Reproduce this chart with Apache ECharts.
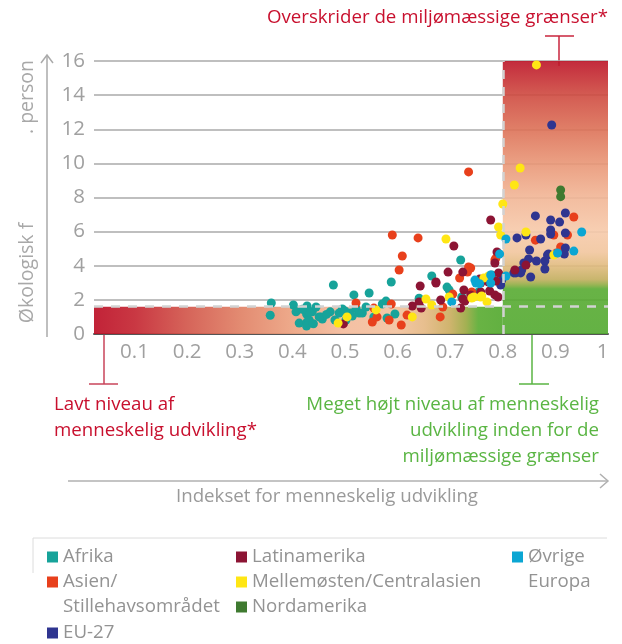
<!DOCTYPE html>
<html>
<head>
<meta charset="utf-8">
<script src="https://cdn.jsdelivr.net/npm/echarts@6/dist/echarts.min.js"></script>
<style>html,body{margin:0;padding:0;background:#fff}#c{width:622px;height:644px}</style>
</head>
<body>
<div id="c"></div>
<script>
// ---- data ----
const xTicks = [0.1, 0.2, 0.3, 0.4, 0.5, 0.6, 0.7, 0.8, 0.9, 1];
const yMin = 0, yMax = 16, yStep = 2;
const xMin = 0.023, xMax = 1;
const hdiThreshold = 0.8;
const biocapacity = 1.6;

const afrika = [[0.36,1.82],[0.358,1.1],[0.402,1.7],[0.407,1.3],[0.413,0.64],[0.428,0.7],[0.428,1.64],[0.427,1.17],[0.432,0.82],[0.438,1.3],[0.445,1.58],[0.455,1.0],[0.457,0.88],[0.472,1.3],[0.478,2.87],[0.481,0.82],[0.489,1.23],[0.495,1.47],[0.502,0.82],[0.51,1.23],[0.517,2.29],[0.521,1.52],[0.527,1.23],[0.546,2.4],[0.54,1.58],[0.555,1.0],[0.588,3.05],[0.578,1.93],[0.571,1.76],[0.595,1.17],[0.58,0.94],[0.533,1.23],[0.514,1.05],[0.451,1.0],[0.432,1.3],[0.427,0.47],[0.665,3.4],[0.694,2.75],[0.698,2.58],[0.72,4.34],[0.641,2.1],[0.722,2.17],[0.754,2.46],[0.779,3.46],[0.419,1.45],[0.44,0.6],[0.465,1.15],[0.5,1.35]];
const asien = [[0.59,5.8],[0.639,5.63],[0.609,4.57],[0.603,3.75],[0.739,3.87],[0.718,3.28],[0.552,0.7],[0.561,1.0],[0.584,0.82],[0.607,0.53],[0.618,1.11],[0.681,1.0],[0.521,1.82],[0.555,1.52],[0.588,1.76],[0.686,1.58],[0.705,2.34],[0.735,3.93],[0.733,3.63],[0.741,2.46],[0.785,4.34],[0.787,4.45],[0.735,9.5],[0.935,6.86],[0.862,5.5],[0.897,5.8],[0.923,5.8],[0.91,5.1],[0.902,4.75]];
const eu27 = [[0.893,12.25],[0.862,6.92],[0.919,7.09],[0.891,6.68],[0.908,6.56],[0.891,6.1],[0.891,5.86],[0.919,5.92],[0.827,5.63],[0.844,5.8],[0.872,5.57],[0.851,4.92],[0.919,5.04],[0.917,4.69],[0.887,4.69],[0.849,4.4],[0.84,4.16],[0.864,4.28],[0.88,4.28],[0.88,3.81],[0.836,3.75],[0.825,3.58],[0.834,3.58],[0.821,3.58],[0.853,3.34],[0.796,2.87],[0.798,3.16],[0.885,4.63]];
const latinamerika = [[0.777,6.68],[0.707,5.16],[0.789,4.81],[0.785,4.16],[0.696,3.63],[0.724,3.63],[0.673,3.05],[0.643,2.81],[0.628,1.64],[0.645,1.52],[0.641,1.88],[0.682,1.99],[0.726,2.58],[0.724,2.05],[0.728,1.93],[0.72,1.52],[0.758,2.99],[0.758,2.46],[0.775,2.52],[0.785,2.29],[0.787,3.1],[0.792,3.58],[0.497,0.59],[0.756,3.22],[0.773,3.05],[0.739,2.29],[0.791,2.17],[0.844,4.04],[0.823,3.75],[0.673,2.99]];
const mellemosten = [[0.864,15.77],[0.833,9.73],[0.822,8.73],[0.8,7.62],[0.792,6.27],[0.796,5.8],[0.773,3.4],[0.764,3.28],[0.741,2.11],[0.745,2.17],[0.758,2.17],[0.77,1.88],[0.692,5.57],[0.654,2.05],[0.665,1.7],[0.698,2.17],[0.76,2.23],[0.844,5.98],[0.897,4.63],[0.559,1.41],[0.504,1.0],[0.487,0.64],[0.628,1.0]];
const nordamerika = [[0.91,8.44],[0.91,8.05]];
const ovrigeEuropa = [[0.95,5.98],[0.935,4.86],[0.904,4.75],[0.806,5.57],[0.806,3.4],[0.794,4.69],[0.747,3.16],[0.749,2.99],[0.777,2.99],[0.777,3.46],[0.703,1.88],[0.756,2.95]];

const names = ['Afrika','Asien/Stillehavsområdet','EU-27','Latinamerika','Mellemøsten/Centralasien','Nordamerika','Øvrige Europa'];
const colors = ['#17a39a','#e8401c','#2f3590','#8c1434','#ffe614','#3f7a30','#0ba6d3'];
const seriesData = [afrika, asien, eu27, latinamerika, mellemosten, nordamerika, ovrigeEuropa];

// ---- chart ----
const FONT = 'Open Sans';
const FS = 18.7;
const RED = '#c8102e', GREEN = '#5ab543', GRAY = '#a0a0a0';
const chart = echarts.init(document.getElementById('c'));

const lg = (c, stops, horizontal) => new echarts.graphic.LinearGradient(0, 0, horizontal ? 1 : 0, horizontal ? 0 : 1,
  stops.map(s => ({offset: s[0], color: s[1]})));

const bandGrad = lg(0, [[0,'#bd1027'],[0.1,'#c52733'],[0.23,'#d3584c'],[0.36,'#e18266'],[0.49,'#eda482'],[0.61,'#f4bb9c'],[0.74,'#f3c29e'],[0.81,'#e5b984'],[0.87,'#ccae62'],[0.91,'#9caa44'],[0.94,'#5cad34'],[1,'#55aa31']], true);
const colGrad = lg(0, [[0,'#bd1427'],[0.125,'#cf4a40'],[0.25,'#dd7157'],[0.375,'#e99676'],[0.5,'#f2b696'],[0.625,'#f7caaa'],[0.7,'#f2c69e'],[0.75,'#e1bb7e'],[0.8,'#c3ae5e'],[0.82,'#8ead42'],[0.835,'#58ab32'],[1,'#53aa30']], false);

const legendIcon2 = 'path://M0,0h11v11h-11z M0,36 L0.001,36';
const legendBase = {
  orient: 'vertical', padding: 0, itemWidth: 11, itemHeight: 11, itemGap: 0,
  textStyle: {color: '#939393', fontSize: FS, fontFamily: FONT, lineHeight: 25}, selectedMode: false
};
const legendPos = [
  {name: names[0], left: 47, top: 544.5},
  {name: names[1], left: 47, top: 569.5, fmt: 'Asien/\nStillehavsområdet', two: true},
  {name: names[2], left: 47, top: 620.5},
  {name: names[3], left: 236, top: 544.5},
  {name: names[4], left: 236, top: 569.5},
  {name: names[5], left: 236, top: 594.5},
  {name: names[6], left: 512, top: 544.5, fmt: 'Øvrige\nEuropa', two: true}
];
const legends = legendPos.map(p => Object.assign({}, legendBase, {
  left: p.left, top: p.top,
  data: [{name: p.name, icon: p.two ? legendIcon2 : 'rect'}],
  itemHeight: p.two ? 36 : 11,
  formatter: p.fmt ? (() => p.fmt) : undefined
}));

const txt = (x, y, text, color, align, size, extra) => Object.assign({
  type: 'text', x, y,
  style: {text, fill: color, font: (size || FS) + 'px "' + FONT + '"', align: align || 'left', verticalAlign: 'middle'}
}, extra || {});
const ln = (x1, y1, x2, y2, color, w) => ({type: 'line', shape: {x1, y1, x2, y2}, style: {stroke: color, lineWidth: w || 1.5}});

const option = {
  animation: false,
  textStyle: {fontFamily: FONT},
  grid: {left: 94, right: 14, top: 61, bottom: 310},
  xAxis: {
    type: 'value', min: xMin, max: xMax,
    axisLine: {show: true, lineStyle: {color: '#555', width: 2}},
    axisTick: {show: false}, splitLine: {show: false},
    axisLabel: {customValues: xTicks, color: GRAY, fontSize: 20.5, margin: 8,
      formatter: v => v === 1 ? '{r|1}' : String(v),
      rich: {r: {color: GRAY, fontSize: 20.5, padding: [0, 11, 0, 0]}}}
  },
  yAxis: {
    type: 'value', min: yMin, max: yMax, interval: yStep,
    axisLine: {show: false}, axisTick: {show: false},
    splitLine: {lineStyle: {color: '#aaaaaa', width: 1.5}},
    axisLabel: {color: GRAY, fontSize: 20.5, margin: 9}
  },
  legend: legends,
  series: [
    {
      type: 'scatter', data: [], z: 1, silent: true,
      markArea: {silent: true, data: [
        [{coord: [xMin, 0], itemStyle: {color: bandGrad, opacity: 0.92}}, {coord: [hdiThreshold, biocapacity]}],
        [{coord: [hdiThreshold, 0], itemStyle: {color: colGrad, opacity: 0.9}}, {coord: [xMax, yMax]}]
      ]}
    },
    {
      type: 'scatter', data: [], z: 2, silent: true,
      markLine: {silent: true, symbol: 'none', label: {show: false},
        lineStyle: {color: '#d2d2d2', width: 2.5, type: [9, 8]},
        data: [
          [{coord: [xMin, biocapacity]}, {coord: [xMax, biocapacity]}],
          [{coord: [hdiThreshold, 0]}, {coord: [hdiThreshold, yMax]}]
        ]}
    }
  ].concat(seriesData.map((d, i) => ({
    name: names[i], type: 'scatter', data: d, z: 3,
    symbolSize: 9, itemStyle: {color: colors[i], opacity: 1}
  }))),
  graphic: [
    // y-axis arrow + name
    ln(47, 337, 47, 55, '#aaaaaa', 1.5),
    {type: 'polyline', shape: {points: [[41, 63], [47, 55], [53, 63]]}, style: {stroke: '#aaaaaa', lineWidth: 1.5, fill: null}},
    txt(27, 97, '. person', '#a8a8a8', 'center', 19.5, {rotation: Math.PI / 2}),
    txt(27, 273, 'Økologisk f', '#a8a8a8', 'center', 19.5, {rotation: Math.PI / 2}),
    // top annotation
    txt(608, 18, 'Overskrider de miljømæssige grænser*', RED, 'right'),
    ln(545, 36, 574, 36, '#c8243c'), ln(559, 36, 559, 66, '#c8243c'),
    // bottom-left annotation
    ln(104, 335, 104, 384, '#c8455a'), ln(89, 384, 118, 384, '#c8455a'),
    txt(54, 405, 'Lavt niveau af', RED), txt(54, 431, 'menneskelig udvikling*', RED),
    // bottom-right annotation
    ln(532, 335, 532, 384, GREEN), ln(519, 384, 549, 384, GREEN),
    txt(599, 405, 'Meget højt niveau af menneskelig', GREEN, 'right'),
    txt(599, 431, 'udvikling inden for de', GREEN, 'right'),
    txt(599, 457, 'miljømæssige grænser', GREEN, 'right'),
    // x-axis arrow + name
    ln(68, 481, 608, 481, '#b0b0b0', 1.5),
    {type: 'polyline', shape: {points: [[600, 474], [608, 481], [600, 488]]}, style: {stroke: '#b0b0b0', lineWidth: 1.5, fill: null}},
    txt(327, 497, 'Indekset for menneskelig udvikling', '#9a9a9a', 'center'),
    // legend frame
    ln(33, 538, 607, 538, '#dcdcdc', 1), ln(33, 538, 33, 573, '#dcdcdc', 1)
  ]
};
chart.setOption(option);
</script>
</body>
</html>
